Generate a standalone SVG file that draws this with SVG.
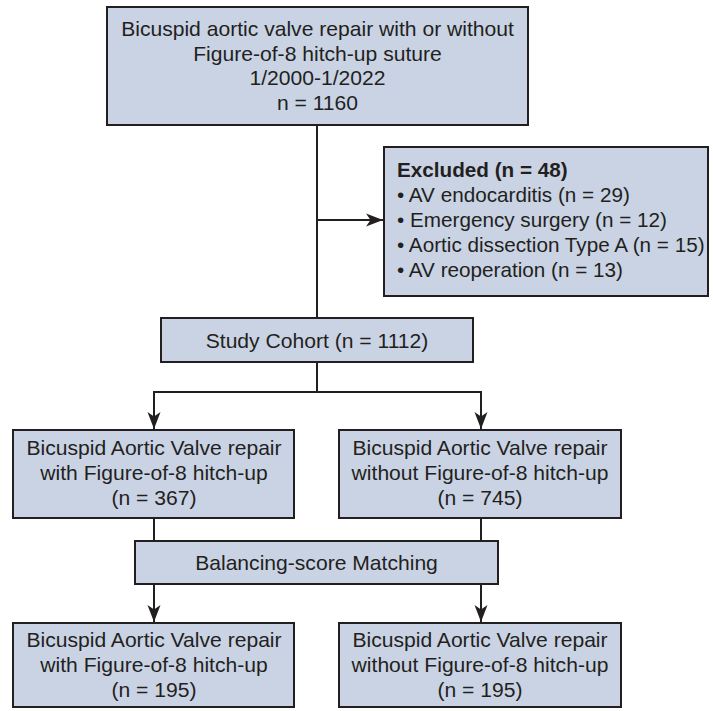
<svg xmlns="http://www.w3.org/2000/svg" width="713" height="711" viewBox="0 0 713 711">
<style>
.box{fill:#c9d3e4;stroke:#231f20;stroke-width:2}
.t{font-family:"Liberation Sans",Arial,sans-serif;font-size:21.1px;fill:#231f20}
.x{font-size:20.7px}
.c{text-anchor:middle}
.b{font-weight:bold}
.ln{fill:none;stroke:#231f20;stroke-width:2}
</style>
<defs>
<marker id="ah" markerUnits="userSpaceOnUse" markerWidth="20" markerHeight="14" refX="17" refY="7" orient="auto">
<path d="M0,0.5 L17,7 L0,13.5 L4.5,7 Z" fill="#231f20"/>
</marker>
</defs>
<rect width="713" height="711" fill="#ffffff"/>
<g id="connectors">
<path class="ln" d="M317,125 V318"/>
<path class="ln" d="M317,220 H383" marker-end="url(#ah)"/>
<path class="ln" d="M317,362 V392"/>
<path class="ln" d="M154,430 V392 H481 V430"/>
<path class="ln" d="M154,392 V429" marker-end="url(#ah)"/>
<path class="ln" d="M481,392 V429" marker-end="url(#ah)"/>
<path class="ln" d="M154,518 V541"/>
<path class="ln" d="M481,518 V541"/>
<path class="ln" d="M154,584 V622" marker-end="url(#ah)"/>
<path class="ln" d="M481,584 V622" marker-end="url(#ah)"/>
</g>
<g id="top">
<rect class="box" x="107" y="7" width="421" height="118"/>
<text class="t c" x="317.5" y="36">Bicuspid aortic valve repair with or without</text>
<text class="t c" x="317.5" y="60.5">Figure-of-8 hitch-up suture</text>
<text class="t c" x="317.5" y="85">1/2000-1/2022</text>
<text class="t c" x="317.5" y="110">n = 1160</text>
</g>
<g id="excluded">
<rect class="box" x="384" y="147" width="324" height="149"/>
<text class="t x b" x="397" y="177">Excluded (n = 48)</text>
<text class="t x" x="397" y="202">• AV endocarditis (n = 29)</text>
<text class="t x" x="397" y="227">• Emergency surgery (n = 12)</text>
<text class="t x" x="397" y="252">• Aortic dissection Type A (n = 15)</text>
<text class="t x" x="397" y="277">• AV reoperation (n = 13)</text>
</g>
<g id="cohort">
<rect class="box" x="161" y="318" width="312" height="44"/>
<text class="t c" x="317" y="348">Study Cohort (n = 1112)</text>
</g>
<g id="with">
<rect class="box" x="13" y="430" width="281" height="88"/>
<text class="t c" x="154" y="455">Bicuspid Aortic Valve repair</text>
<text class="t c" x="154" y="480">with Figure-of-8 hitch-up</text>
<text class="t c" x="154" y="505">(n = 367)</text>
</g>
<g id="without">
<rect class="box" x="339" y="430" width="282" height="88"/>
<text class="t c" x="480" y="455">Bicuspid Aortic Valve repair</text>
<text class="t c" x="480" y="480">without Figure-of-8 hitch-up</text>
<text class="t c" x="480" y="505">(n = 745)</text>
</g>
<g id="matching">
<rect class="box" x="135" y="541" width="363" height="43"/>
<text class="t c" x="316.5" y="570">Balancing-score Matching</text>
</g>
<g id="with-matched">
<rect class="box" x="13" y="623" width="281" height="84"/>
<text class="t c" x="154" y="647">Bicuspid Aortic Valve repair</text>
<text class="t c" x="154" y="672">with Figure-of-8 hitch-up</text>
<text class="t c" x="154" y="697">(n = 195)</text>
</g>
<g id="without-matched">
<rect class="box" x="339" y="623" width="282" height="84"/>
<text class="t c" x="480" y="647">Bicuspid Aortic Valve repair</text>
<text class="t c" x="480" y="672">without Figure-of-8 hitch-up</text>
<text class="t c" x="480" y="697">(n = 195)</text>
</g>
</svg>
